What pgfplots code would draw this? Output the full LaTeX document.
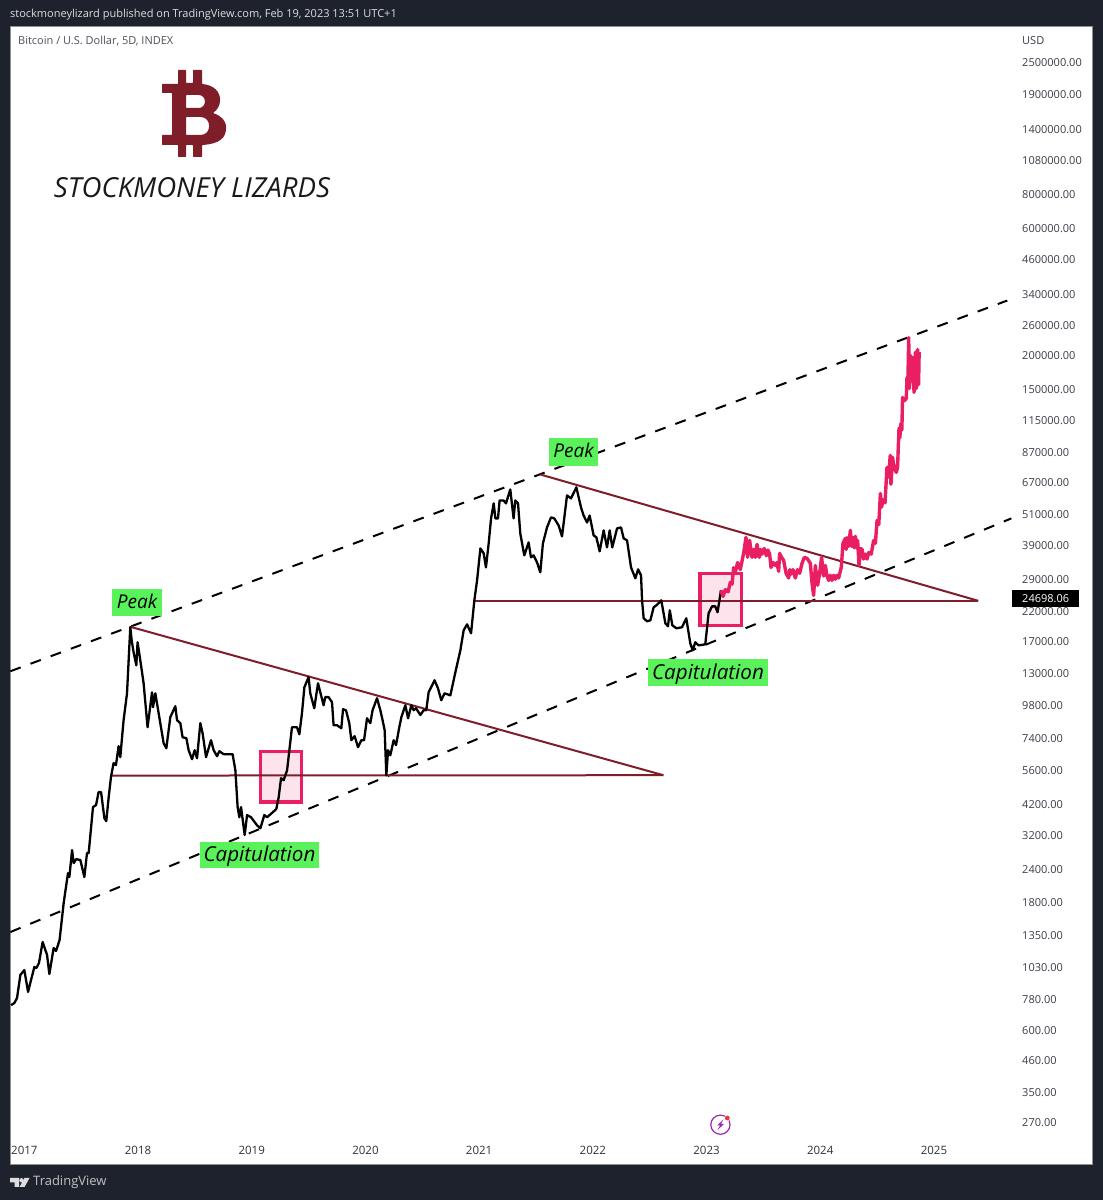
\documentclass[border=0pt]{standalone}
\usepackage{fontspec}
\setmainfont{Open Sans}
\usepackage{pgfplots}
\usepackage{pgfplotstable}
\pgfplotsset{compat=1.18}
\definecolor{tvbg}{HTML}{1E222D}
\definecolor{dred}{HTML}{7F1D28}
\definecolor{hotpink}{HTML}{E91E63}
\definecolor{lblgreen}{HTML}{5AF25A}
\definecolor{tvtext}{HTML}{3A3E47}
\pgfplotstableread{
x y
2016.883 739
2016.912 752
2016.936 786
2016.965 958
2017.000 1000
2017.033 828
2017.053 896
2017.088 1026
2017.106 1017
2017.129 1063
2017.161 1273
2017.200 1138
2017.220 966
2017.258 1209
2017.279 1178
2017.310 1295
2017.346 1780
2017.384 2305
2017.396 2227
2017.420 2810
2017.434 2512
2017.457 2600
2017.493 2578
2017.528 2227
2017.551 2738
2017.566 2738
2017.604 4072
2017.631 4143
2017.653 4630
2017.675 4630
2017.704 3702
2017.721 3607
2017.741 4397
2017.762 5270
2017.785 5946
2017.806 5844
2017.829 6880
2017.844 6257
2017.873 8604
2017.903 10830
2017.932 19200
2017.944 17132
2017.961 15450
2017.985 13810
2017.996 16840
2018.020 14422
2018.049 11830
2018.084 8100
2018.123 10950
2018.132 9620
2018.152 10850
2018.196 8390
2018.225 7060
2018.249 6760
2018.284 8830
2018.328 9710
2018.343 8604
2018.372 8390
2018.392 7430
2018.425 7370
2018.445 6646
2018.475 6150
2018.498 6646
2018.519 6200
2018.548 8390
2018.568 7690
2018.598 6257
2018.642 7243
2018.665 6646
2018.695 6310
2018.715 6590
2018.753 6420
2018.832 6420
2018.856 5595
2018.876 4072
2018.891 3730
2018.906 4072
2018.938 3200
2018.959 3800
2018.994 3730
2019.047 3480
2019.076 3390
2019.111 3800
2019.135 3730
2019.216 4000
2019.237 4430
2019.258 5220
2019.281 5133
2019.311 5595
2019.328 6480
2019.354 8100
2019.398 8100
2019.419 7620
2019.442 9150
2019.463 11430
2019.500 12460
2019.515 10850
2019.550 9540
2019.583 11830
2019.632 9790
2019.647 10500
2019.676 10500
2019.706 10050
2019.720 8240
2019.750 8240
2019.788 8030
2019.803 9460
2019.829 9378
2019.858 8390
2019.876 7243
2019.905 7500
2019.935 6820
2019.964 7243
2019.988 7243
2020.014 8750
2020.043 8390
2020.063 9378
2020.102 10400
2020.131 9378
2020.151 8604
2020.169 7895
2020.184 5350
2020.199 6646
2020.219 6360
2020.248 7243
2020.269 6940
2020.298 8100
2020.316 8830
2020.351 9790
2020.375 8750
2020.404 9790
2020.424 9378
2020.445 9540
2020.483 9000
2020.512 9378
2020.535 9378
2020.556 10950
2020.608 12141
2020.638 11330
2020.667 10221
2020.696 10850
2020.747 10660
2020.791 13000
2020.835 15719
2020.864 18672
2020.894 19660
2020.929 18200
2020.958 24174
2020.982 28716
2021.011 37820
2021.040 36240
2021.060 32100
2021.084 39500
2021.105 48970
2021.128 55730
2021.143 48970
2021.166 48970
2021.180 57178
2021.215 57178
2021.236 55730
2021.274 62860
2021.303 48970
2021.318 57178
2021.342 55730
2021.362 43000
2021.397 35620
2021.435 39830
2021.456 35030
2021.479 35620
2021.509 33530
2021.538 30770
2021.561 39500
2021.597 45300
2021.632 49400
2021.661 48970
2021.699 46100
2021.729 41940
2021.773 59700
2021.808 58180
2021.855 64000
2021.896 53850
2021.919 50190
2021.949 47280
2021.972 50190
2022.007 42300
2022.031 41590
2022.060 36870
2022.095 44164
2022.125 38150
2022.148 44164
2022.171 38150
2022.213 44930
2022.248 45300
2022.271 41230
2022.301 40521
2022.336 32100
2022.374 29220
2022.398 31570
2022.424 29970
2022.433 24174
2022.447 20710
2022.477 20180
2022.506 20351
2022.535 22760
2022.559 23160
2022.602 24174
2022.638 19830
2022.661 19330
2022.677 22180
2022.699 19500
2022.734 19000
2022.784 19170
2022.822 20710
2022.857 16700
2022.878 15719
2022.901 16840
2022.930 16400
2022.989 16550
2023.018 21600
2023.048 22950
2023.077 22950
2023.097 21800
2023.127 26348
}\blackdata
\pgfplotstableread{
x y
2023.127 26348
2023.145 25000
2023.165 26500
2023.190 26000
2023.209 28200
2023.225 27800
2023.238 32000
2023.255 31000
2023.273 33500
2023.297 31500
2023.326 36240
2023.347 41590
2023.361 35030
2023.379 40521
2023.400 35030
2023.415 37500
2023.429 35000
2023.444 39160
2023.464 35000
2023.476 37500
2023.488 36000
2023.507 37800
2023.526 35500
2023.540 37300
2023.555 36000
2023.567 32100
2023.585 33500
2023.605 32650
2023.620 33500
2023.634 31030
2023.643 36240
2023.660 35000
2023.678 34112
2023.700 30500
2023.722 29300
2023.732 31500
2023.743 30300
2023.760 31500
2023.781 29300
2023.800 31500
2023.819 30500
2023.840 33260
2023.860 35000
2023.884 34700
2023.913 33260
2023.928 28000
2023.942 25220
2023.957 32650
2023.977 27530
2023.995 30500
2024.012 35030
2024.030 29800
2024.045 32650
2024.060 29800
2024.074 28700
2024.088 30000
2024.103 28700
2024.118 30000
2024.133 29000
2024.148 30000
2024.162 29300
2024.185 32100
2024.200 39500
2024.221 41230
2024.228 37500
2024.236 41500
2024.250 38500
2024.265 44164
2024.277 38500
2024.289 41500
2024.300 38000
2024.309 42000
2024.320 38000
2024.329 40500
2024.341 32650
2024.352 37800
2024.368 37500
2024.380 34500
2024.397 36000
2024.412 34500
2024.426 36500
2024.448 36000
2024.470 40521
2024.485 39500
2024.500 48134
2024.515 46500
2024.529 60700
2024.540 54000
2024.553 57500
2024.570 56000
2024.587 76000
2024.600 70000
2024.616 84300
2024.622 65700
2024.636 82900
2024.650 76000
2024.669 72800
2024.680 76000
2024.693 106600
2024.700 98000
2024.710 110900
2024.718 105000
2024.724 138800
2024.740 135000
2024.757 137600
2024.763 165000
2024.770 150000
2024.778 232600
2024.785 150000
2024.792 200000
2024.800 160000
2024.813 196000
2024.825 145000
2024.837 205000
2024.845 150000
2024.857 210000
2024.865 155000
2024.870 205000
}\pinkdata
\begin{document}
\begin{tikzpicture}[x=1pt,y=1pt]
\path[use as bounding box,fill=tvbg] (0,0) rectangle (1103,1200);
\begin{axis}[
  at={(10pt,35pt)}, anchor=south west,
  width=1082.5pt, height=1138pt, scale only axis,
  axis background/.style={fill=white},
  axis line style={draw=gray!75!black!70, line width=1pt},
  ymode=log,
  xmin=2016.874, xmax=2026.395,
  ymin=186.4, ymax=3380000,
  major tick length=0pt, minor tick length=0pt,
  tick align=inside,
  xtick={2017,2018,2019,2020,2021,2022,2023,2024,2025},
  xticklabels={2017,2018,2019,2020,2021,2022,2023,2024,2025},
  xticklabel style={anchor=center,yshift=14.5pt,font=\fontsize{11.5}{13}\selectfont,text=tvtext!80!black,inner sep=0pt},
  ytick={270,350,460,600,780,1030,1350,1800,2400,3200,4200,5600,7400,9800,13000,17000,22000,29000,39000,51000,67000,87000,115000,150000,200000,260000,340000,460000,600000,800000,1080000,1400000,1900000,2500000},
  yticklabels={270.00,350.00,460.00,600.00,780.00,1030.00,1350.00,1800.00,2400.00,3200.00,4200.00,5600.00,7400.00,9800.00,13000.00,17000.00,22000.00,29000.00,39000.00,51000.00,67000.00,87000.00,115000.00,150000.00,200000.00,260000.00,340000.00,460000.00,600000.00,800000.00,1080000.00,1400000.00,1900000.00,2500000.00},
  yticklabel pos=right,
  yticklabel style={anchor=west,inner sep=0pt,xshift=-70.5pt,yshift=-0.8pt,font=\fontsize{11}{13}\selectfont,text=tvtext},
  extra y ticks={24698.06},
  extra y tick labels={24698.06},
  extra y tick style={yticklabel style={fill=black,text=white,inner xsep=10pt,inner ysep=0pt,minimum height=16.5pt,xshift=-10pt,font=\fontsize{11}{13}\selectfont}},
  clip=true,
]
% boxes
\addplot[draw=hotpink,line width=3.5pt,fill=hotpink,fill opacity=0.12,draw opacity=1] coordinates {(2019.076,6580) (2019.436,6580) (2019.436,4250) (2019.076,4250)} --cycle;
\addplot[draw=hotpink,line width=3.5pt,fill=hotpink,fill opacity=0.12,draw opacity=1] coordinates {(2022.941,30500) (2023.306,30500) (2023.306,19500) (2022.941,19500)} --cycle;
% channel
\addplot[black,line width=2pt,dash pattern=on 11pt off 10.5pt] coordinates {(2016.877,13120) (2025.645,320000)};
\addplot[black,line width=2pt,dash pattern=on 11pt off 10.5pt] coordinates {(2016.877,1387) (2025.681,48970)};
% triangles
\addplot[dred,line width=2pt] coordinates {(2017.941,19200) (2022.620,5358)};
\addplot[dred,line width=2pt] coordinates {(2017.756,5340) (2022.620,5358)};
\addplot[dred,line width=2pt] coordinates {(2021.538,71510) (2025.390,24070)};
\addplot[dred,line width=2pt] coordinates {(2020.958,24070) (2025.390,24070)};
% price
\addplot[black,line width=2.3pt,line join=round] table {\blackdata};
\addplot[hotpink,line width=3.4pt,line join=round] table {\pinkdata};
\end{axis}
\begin{scope}[yshift=1200pt,y=-1pt]
  % header
  \node[anchor=west,inner sep=0pt,text=white!85!tvbg,font=\fontsize{11}{13}\selectfont] at (10,14.5) {stockmoneylizard published on TradingView.com, Feb 19, 2023 13:51 UTC+1};
  \node[anchor=west,inner sep=0pt,text=tvtext!90,font=\fontsize{11}{13}\selectfont] at (18,41.5) {Bitcoin / U.S. Dollar, 5D, INDEX};
  \node[anchor=west,inner sep=0pt,text=tvtext,font=\fontsize{11}{13}\selectfont] at (1022,41) {USD};
  % logo
  \fill[dred,even odd rule,rounded corners=0.6pt]
    (162,84) -- (178,84) -- (178,70) -- (186,70) -- (186,83) -- (193,83) -- (193,70) -- (202,70) -- (202,84)
    .. controls (214,85) and (220,92) .. (220,100) .. controls (220,106) and (217,110) .. (213,113)
    .. controls (221,116) and (226,120) .. (226,128) .. controls (226,138) and (219,144) .. (202,145)
    -- (202,157) -- (193,157) -- (193,145) -- (186,145) -- (186,157) -- (178,157) -- (178,145) -- (162,145) -- (162,135) -- (172,135) -- (172,93) -- (162,93) -- cycle
    (186,95) -- (198,95) .. controls (207,95) and (207,108) .. (198,108) -- (186,108) -- cycle
    (186,117) -- (200,117) .. controls (212,117) and (212,135) .. (200,135) -- (186,135) -- cycle;
  \node[anchor=center,inner sep=0pt,text=black!90,font=\fontsize{27.6}{30}\selectfont\itshape] at (192,187.5) {STOCKMONEY LIZARDS};
  % labels
  \node[fill=lblgreen,inner sep=0pt,minimum width=50pt,minimum height=27pt,text height=17pt,text depth=4pt,font=\fontsize{19}{22}\selectfont\itshape] at (137,602.5) {Peak};
  \node[fill=lblgreen,inner sep=0pt,minimum width=119pt,minimum height=26pt,text height=18pt,text depth=4pt,font=\fontsize{20.6}{22}\selectfont\itshape] at (259.5,855) {Capitulation};
  \node[fill=lblgreen,inner sep=0pt,minimum width=49pt,minimum height=28pt,text height=16pt,text depth=4pt,font=\fontsize{19}{22}\selectfont\itshape] at (573.5,452) {Peak};
  \node[fill=lblgreen,inner sep=0pt,minimum width=120pt,minimum height=27pt,text height=18pt,text depth=4pt,font=\fontsize{20.6}{22}\selectfont\itshape] at (708,672.5) {Capitulation};
  % lightning icon
  \draw[color={rgb,255:red,156;green,39;blue,176},line width=1.2pt] (720.4,1124.7) circle[radius=9.6];
  \fill[color={rgb,255:red,156;green,39;blue,176}] (723.5,1119.5) -- (717,1125.5) -- (720,1125.5) -- (717.5,1130) -- (724,1124) -- (721,1124) -- cycle;
  \fill[white] (727.3,1118) circle[radius=3.2];
  \fill[color={rgb,255:red,229;green,57;blue,53}] (727.3,1118) circle[radius=2.4];
  % TradingView logo
  \fill[white!85!tvbg] (10,1178) -- (19,1178) -- (19,1187) -- (14.5,1187) -- (14.5,1182.5) -- (10,1182.5) -- cycle;
  \fill[white!85!tvbg] (21.5,1180.3) circle[radius=2.2];
  \fill[white!85!tvbg] (24.5,1178) -- (29.5,1178) -- (24.5,1187) -- (19.5,1187) -- cycle;
  \node[anchor=west,inner sep=0pt,text=white!72!tvbg,font=\fontsize{13}{15}\selectfont] at (33,1182) {TradingView};
\end{scope}
\end{tikzpicture}
\end{document}
